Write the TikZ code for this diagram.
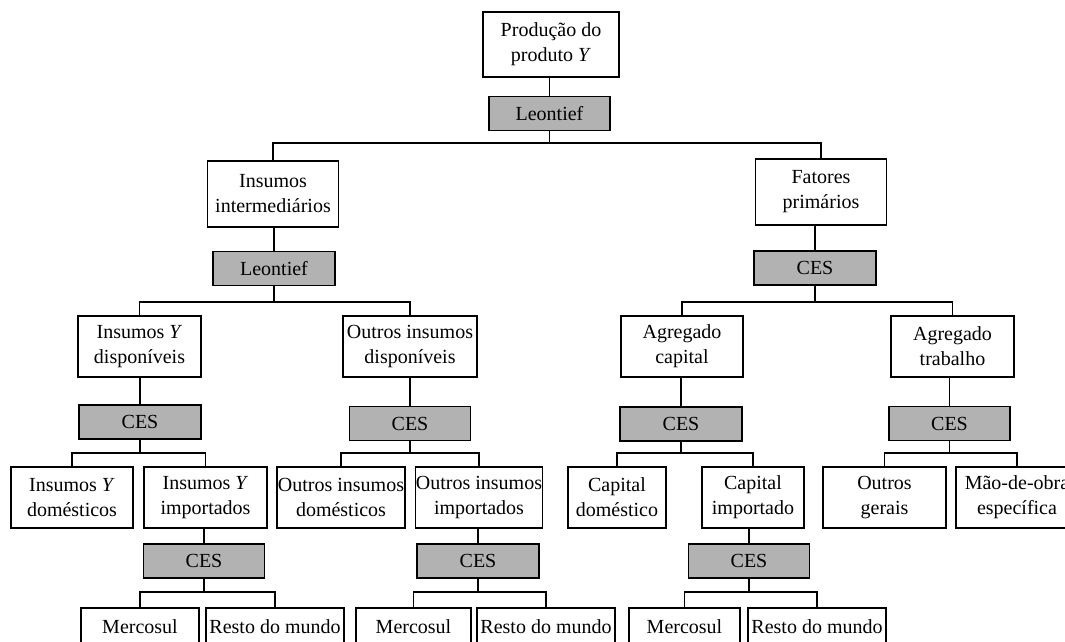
\documentclass[tikz,border=0pt]{standalone}
\usepackage{fontspec}
\setmainfont{Liberation Serif}
\begin{document}
\begin{tikzpicture}[x=0.5pt,y=-0.5pt,
  wh/.style 2 args={minimum width=#1*0.5pt, minimum height=#2*0.5pt},
  box/.style={draw=black, line width=0.55pt, fill=white, inner sep=0pt,
    align=center, font=\fontsize{10}{12.5}\selectfont},
  gbox/.style={box, fill=black!30},
  leaf/.style={box, text height=12.5pt, text depth=18pt},
  conn/.style={draw=black, line width=0.55pt}]
\useasboundingbox (0,0) rectangle (1065,642);
\clip (0,0) rectangle (1065,642);
% buses
\coordinate (b1) at (0,143);
\coordinate (b2) at (0,302);
\coordinate (b3) at (0,453);
\coordinate (b4) at (0,592);
% level 0
\node[box, wh={136}{65}] (top) at (551,44.5) {Produção do\\produto \textit{Y}};
\node[gbox, wh={121}{34}] (L1) at (549.5,113.5) {Leontief};
% level 1
\node[box, wh={131}{66}] (ii) at (273,194) {Insumos\\intermediários};
\node[gbox, wh={122}{34}] (L2) at (274,268.5) {Leontief};
\node[box, wh={131}{66}] (fp) at (821,192) {Fatores\\primários};
\node[gbox, wh={122}{34}] (C1) at (815,268) {CES};
% level 2
\node[box, wh={123}{61}] (iyd) at (139.5,346.5) {Insumos \textit{Y}\\disponíveis};
\node[gbox, wh={122}{34}] (C2) at (140,422) {CES};
\node[box, wh={134}{61}] (oid) at (410,346.5) {Outros insumos\\disponíveis};
\node[gbox, wh={121}{34}] (C3) at (410,423.5) {CES};
\node[box, wh={122}{61}] (ac) at (682,346.5) {Agregado\\capital};
\node[gbox, wh={122}{34}] (C4) at (681,424) {CES};
\node[box, wh={123}{61}] (at) at (952.5,346.5) {Agregado\\trabalho};
\node[gbox, wh={121}{34}] (C5) at (949.5,423.5) {CES};
% level 3
\node[box, wh={122}{61}] (iydom) at (72,497.5) {Insumos \textit{Y}\\domésticos};
\node[box, wh={123}{61}] (iyimp) at (205.5,497.5) {Insumos \textit{Y}\\importados};
\node[box, wh={128}{61}] (oidom) at (341,497.5) {Outros insumos\\domésticos};
\node[box, wh={126}{61}] (oiimp) at (479,497.5) {Outros insumos\\importados};
\node[box, wh={98}{61}] (cdom) at (617,497.5) {Capital\\doméstico};
\node[box, wh={102}{61}] (cimp) at (753,497.5) {Capital\\importado};
\node[box, wh={123}{61}] (og) at (884.5,497.5) {Outros\\gerais};
\node[box, wh={122}{61}] (mo) at (1017,497.5) {Mão-de-obra\\específica};
\node[gbox, wh={121}{34}] (C6) at (204,561) {CES};
\node[gbox, wh={122}{34}] (C7) at (478,561) {CES};
\node[gbox, wh={121}{34}] (C8) at (749,561) {CES};
% level 4
\node[leaf, wh={118}{61}] (m1) at (140,638.5) {Mercosul};
\node[leaf, wh={138}{61}] (r1) at (275,638.5) {Resto do mundo};
\node[leaf, wh={115}{61}] (m2) at (413.5,638.5) {Mercosul};
\node[leaf, wh={138}{61}] (r2) at (546,638.5) {Resto do mundo};
\node[leaf, wh={111}{61}] (m3) at (684.5,638.5) {Mercosul};
\node[leaf, wh={138}{61}] (r3) at (817,638.5) {Resto do mundo};
% connectors: box to gray
\path[conn] (L1.north) -- (L1.north |- top.south);
\path[conn] (L2.north) -- (L2.north |- ii.south);
\path[conn] (C1.north) -- (C1.north |- fp.south);
\path[conn] (C2.north) -- (C2.north |- iyd.south);
\path[conn] (C3.north) -- (C3.north |- oid.south);
\path[conn] (C4.north) -- (C4.north |- ac.south);
\path[conn] (C5.north) -- (C5.north |- at.south);
\path[conn] (C6.north) -- (C6.north |- iyimp.south);
\path[conn] (C7.north) -- (C7.north |- oiimp.south);
\path[conn] (C8.north) -- (C8.north |- cimp.south);
% connectors: gray to children
\path[conn] (L1.south) -- (L1.south |- b1);
\path[conn] (ii.north) -- (ii.north |- b1) -- (fp.north |- b1) -- (fp.north);
\path[conn] (L2.south) -- (L2.south |- b2);
\path[conn] (iyd.north) -- (iyd.north |- b2) -- (oid.north |- b2) -- (oid.north);
\path[conn] (C1.south) -- (C1.south |- b2);
\path[conn] (ac.north) -- (ac.north |- b2) -- (at.north |- b2) -- (at.north);
\path[conn] (C2.south) -- (C2.south |- b3);
\path[conn] (iydom.north) -- (iydom.north |- b3) -- (iyimp.north |- b3) -- (iyimp.north);
\path[conn] (C3.south) -- (C3.south |- b3);
\path[conn] (oidom.north) -- (oidom.north |- b3) -- (oiimp.north |- b3) -- (oiimp.north);
\path[conn] (C4.south) -- (C4.south |- b3);
\path[conn] (cdom.north) -- (cdom.north |- b3) -- (cimp.north |- b3) -- (cimp.north);
\path[conn] (C5.south) -- (C5.south |- b3);
\path[conn] (og.north) -- (og.north |- b3) -- (mo.north |- b3) -- (mo.north);
\path[conn] (C6.south) -- (C6.south |- b4);
\path[conn] (m1.north) -- (m1.north |- b4) -- (r1.north |- b4) -- (r1.north);
\path[conn] (C7.south) -- (C7.south |- b4);
\path[conn] (m2.north) -- (m2.north |- b4) -- (r2.north |- b4) -- (r2.north);
\path[conn] (C8.south) -- (C8.south |- b4);
\path[conn] (m3.north) -- (m3.north |- b4) -- (r3.north |- b4) -- (r3.north);
\end{tikzpicture}
\end{document}
